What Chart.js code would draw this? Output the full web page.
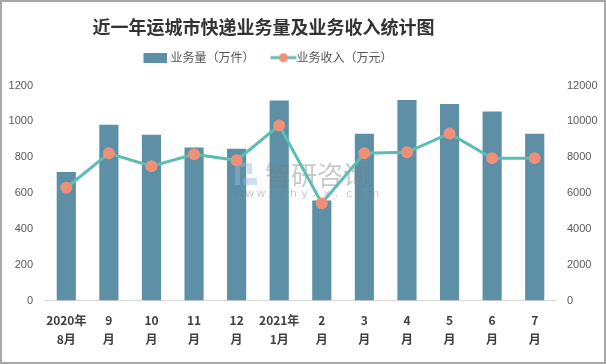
<!DOCTYPE html>
<html>
<head>
<meta charset="utf-8">
<script src="https://cdn.jsdelivr.net/npm/chart.js@4.4.0/dist/chart.umd.min.js"></script>
<style>
  body { margin: 0; background: #fff; }
  #wrap { width: 606px; height: 364px; }
</style>
</head>
<body>
<div id="wrap"><canvas id="chart" width="606" height="364"></canvas></div>
<script>
const months = [
  ["2020年", "8月"], ["9", "月"], ["10", "月"], ["11", "月"], ["12", "月"],
  ["2021年", "1月"], ["2", "月"], ["3", "月"], ["4", "月"], ["5", "月"], ["6", "月"], ["7", "月"]
];
const volume = [718, 982, 926, 855, 848, 1117, 559, 931, 1120, 1098, 1055, 931];
const revenue = [6300, 8220, 7500, 8170, 7830, 9780, 5440, 8220, 8280, 9330, 7940, 7940];
const leftTicks = [0, 1200, 200];
const rightTicks = [0, 12000, 2000];

const barColor = "#5d90a7";
const lineColor = "#5cbdb2";
const dotColor = "#ee9077";

// legend swatches
function makeSwatch(w, h, draw) {
  const c = document.createElement("canvas");
  c.width = w; c.height = h;
  draw(c.getContext("2d"));
  return c;
}
const barSwatch = makeSwatch(32, 10, ctx => {
  ctx.fillStyle = barColor;
  ctx.fillRect(8, 0, 24, 10);
});
// left margin gives the gap between the two legend items
const lineSwatch = makeSwatch(42, 10, ctx => {
  ctx.strokeStyle = lineColor;
  ctx.lineWidth = 3;
  ctx.beginPath(); ctx.moveTo(14, 5); ctx.lineTo(40, 5); ctx.stroke();
  ctx.fillStyle = dotColor;
  ctx.beginPath(); ctx.arc(27, 5, 4.5, 0, Math.PI * 2); ctx.fill();
});

const extras = {
  id: "extras",
  beforeInit(chart) {
    // extra room under the legend
    const fit = chart.legend.fit;
    chart.legend.fit = function() {
      fit.call(this);
      this.height += 12;
    };
  },
  afterLayout(chart) {
    // title and legend sit left of centre in the original
    chart.titleBlock.left -= 40;
    chart.titleBlock.right -= 40;
    chart.legend.left -= 38;
    chart.legend.right -= 38;
  },
  afterDatasetDraw(chart, args) {
    if (args.index !== 1) return;
    // watermark, between bars and line
    const ctx = chart.ctx;
    ctx.save();
    ctx.fillStyle = "rgba(150,185,215,0.45)";
    ctx.fillRect(235, 163, 5, 22);
    ctx.fillRect(240, 163, 12, 4);
    ctx.fillRect(247, 167, 5, 7);
    ctx.fillRect(243, 178, 14, 7);
    ctx.fillStyle = "rgba(120,125,130,0.42)";
    ctx.font = "26px 'Noto Sans CJK SC'";
    ctx.textBaseline = "middle";
    ctx.fillText("智研咨询", 265, 175);
    ctx.font = "11px 'DejaVu Sans'";
    "www.chyxx.com".split("").forEach((ch, i) => ctx.fillText(ch, 234 + i * 11.2, 194));
    ctx.restore();
  },
  afterDraw(chart) {
    const ctx = chart.ctx;
    ctx.save();
    ctx.strokeStyle = "#a6a6a6";
    ctx.lineWidth = 2;
    ctx.strokeRect(1, 1, 604, 362);
    ctx.restore();
  }
};

const tickFont = { family: "'Liberation Sans'", size: 11 };

new Chart(document.getElementById("chart"), {
  data: {
    labels: months,
    datasets: [
      {
        type: "line",
        label: "业务收入（万元）",
        data: revenue,
        yAxisID: "y2",
        borderColor: lineColor,
        borderWidth: 3,
        pointBackgroundColor: dotColor,
        pointBorderColor: dotColor,
        pointRadius: 4.5,
        tension: 0,
        order: 0
      },
      {
        type: "bar",
        label: "业务量（万件）",
        data: volume,
        yAxisID: "y",
        backgroundColor: barColor,
        barPercentage: 0.45,
        categoryPercentage: 1,
        order: 1
      }
    ]
  },
  options: {
    responsive: false,
    animation: false,
    layout: { padding: { left: 9, right: 8, top: 0, bottom: 13 } },
    plugins: {
      title: {
        display: true,
        text: "近一年运城市快递业务量及业务收入统计图",
        color: "#333",
        font: { family: "'Noto Sans CJK SC'", size: 18, weight: "bold" },
        padding: { top: 16, bottom: 4 }
      },
      legend: {
        reverse: true,
        labels: {
          color: "#555",
          font: { family: "'Noto Sans CJK SC'", size: 12 },
          usePointStyle: true,
          pointStyleWidth: 26,
          boxHeight: 10,
          padding: 10,
          generateLabels(chart) {
            const items = Chart.defaults.plugins.legend.labels.generateLabels(chart);
            items.forEach(it => {
              it.pointStyle = it.datasetIndex === 1 ? barSwatch : lineSwatch;
            });
            return items;
          }
        }
      },
      tooltip: { enabled: false }
    },
    scales: {
      x: {
        grid: { display: false },
        border: { color: "#d9d9d9" },
        afterFit(scale) {
          scale.paddingLeft = 0;
          scale.paddingRight = 0;
        },
        ticks: {
          color: "#404040",
          padding: 2,
          font: { family: "'Noto Sans CJK SC'", size: 12, weight: "bold", lineHeight: 1.6 },
          maxRotation: 0,
          autoSkip: false
        }
      },
      y: {
        position: "left",
        min: leftTicks[0], max: leftTicks[1],
        grid: { display: false, drawTicks: false },
        border: { display: false },
        afterFit(scale) { scale.width = 36; },
        ticks: { stepSize: leftTicks[2], padding: 12, color: "#595959", font: tickFont, callback: v => String(v) }
      },
      y2: {
        position: "right",
        min: rightTicks[0], max: rightTicks[1],
        grid: { display: false, drawTicks: false },
        border: { display: false },
        afterFit(scale) { scale.width = 42; },
        ticks: { stepSize: rightTicks[2], padding: 11, color: "#595959", font: tickFont, callback: v => String(v) }
      }
    }
  },
  plugins: [extras]
});
</script>
</body>
</html>
